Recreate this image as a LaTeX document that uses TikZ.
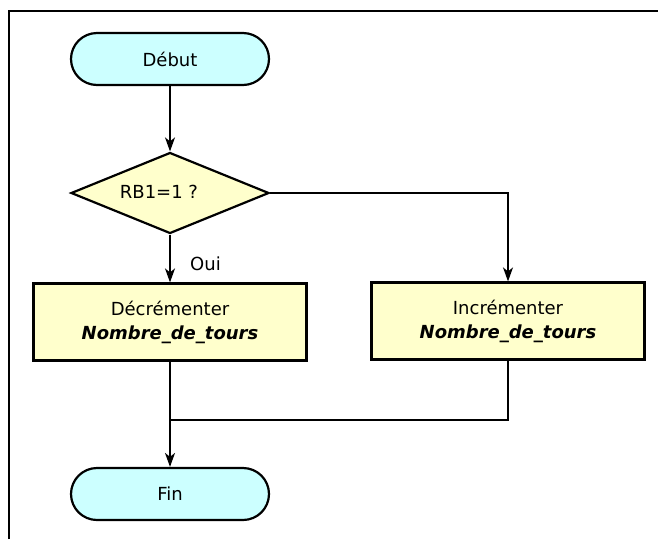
\documentclass[tikz,border=0pt]{standalone}
\usepackage{fontspec}
\setmainfont{DejaVu Sans}
\usetikzlibrary{shapes.geometric,arrows.meta}
\definecolor{termfill}{HTML}{CCFFFF}
\definecolor{procfill}{HTML}{FFFFCC}
\begin{document}
\begin{tikzpicture}[x=1pt,y=-1pt,
  every node/.style={font=\fontsize{18}{24}\selectfont},
  term/.style={draw,line width=2.2pt,fill=termfill,rounded corners=26pt,minimum width=198pt,minimum height=52pt,inner sep=0pt},
  proc/.style={draw,line width=2.2pt,fill=procfill,minimum width=273pt,minimum height=77pt,inner sep=0pt,align=center},
  decision/.style={draw,line width=2.2pt,fill=procfill,diamond,aspect=2.44,minimum width=198pt,minimum height=81pt,inner sep=0pt},
  conn/.style={line width=1.7pt},
  arr/.style={conn,-{Stealth[length=14pt,width=10pt,inset=4pt]}},
  frame/.style={line width=2pt}]
\useasboundingbox (0,0) rectangle (658,539);
\draw[frame] (9,539) -- (9,11) -- (658,11);
\node[term] (debut) at (170,59) {Début};
\node[decision] (test) at (170,193) {};
\node (testtxt) at (159,192) {RB1=1 ?};
\node[proc] (dec) at (170,322) {Décrémenter\\\textbf{\textit{Nombre\_de\_tours}}};
\node[proc] (inc) at (508,321) {Incrémenter\\\textbf{\textit{Nombre\_de\_tours}}};
\node[term] (fin) at (170,494) {Fin};
\coordinate (join) at (170,420);
\draw[arr] (debut.south) -- (test.north);
\draw[arr] (test.south) -- (dec.north) node[pos=0.62,right=16pt] (oui) {Oui};
\draw[arr] (test.east) -| (inc.north);
\draw[arr] (dec.south) -- (fin.north);
\draw[conn] (inc.south) |- (join);
\end{tikzpicture}
\end{document}
